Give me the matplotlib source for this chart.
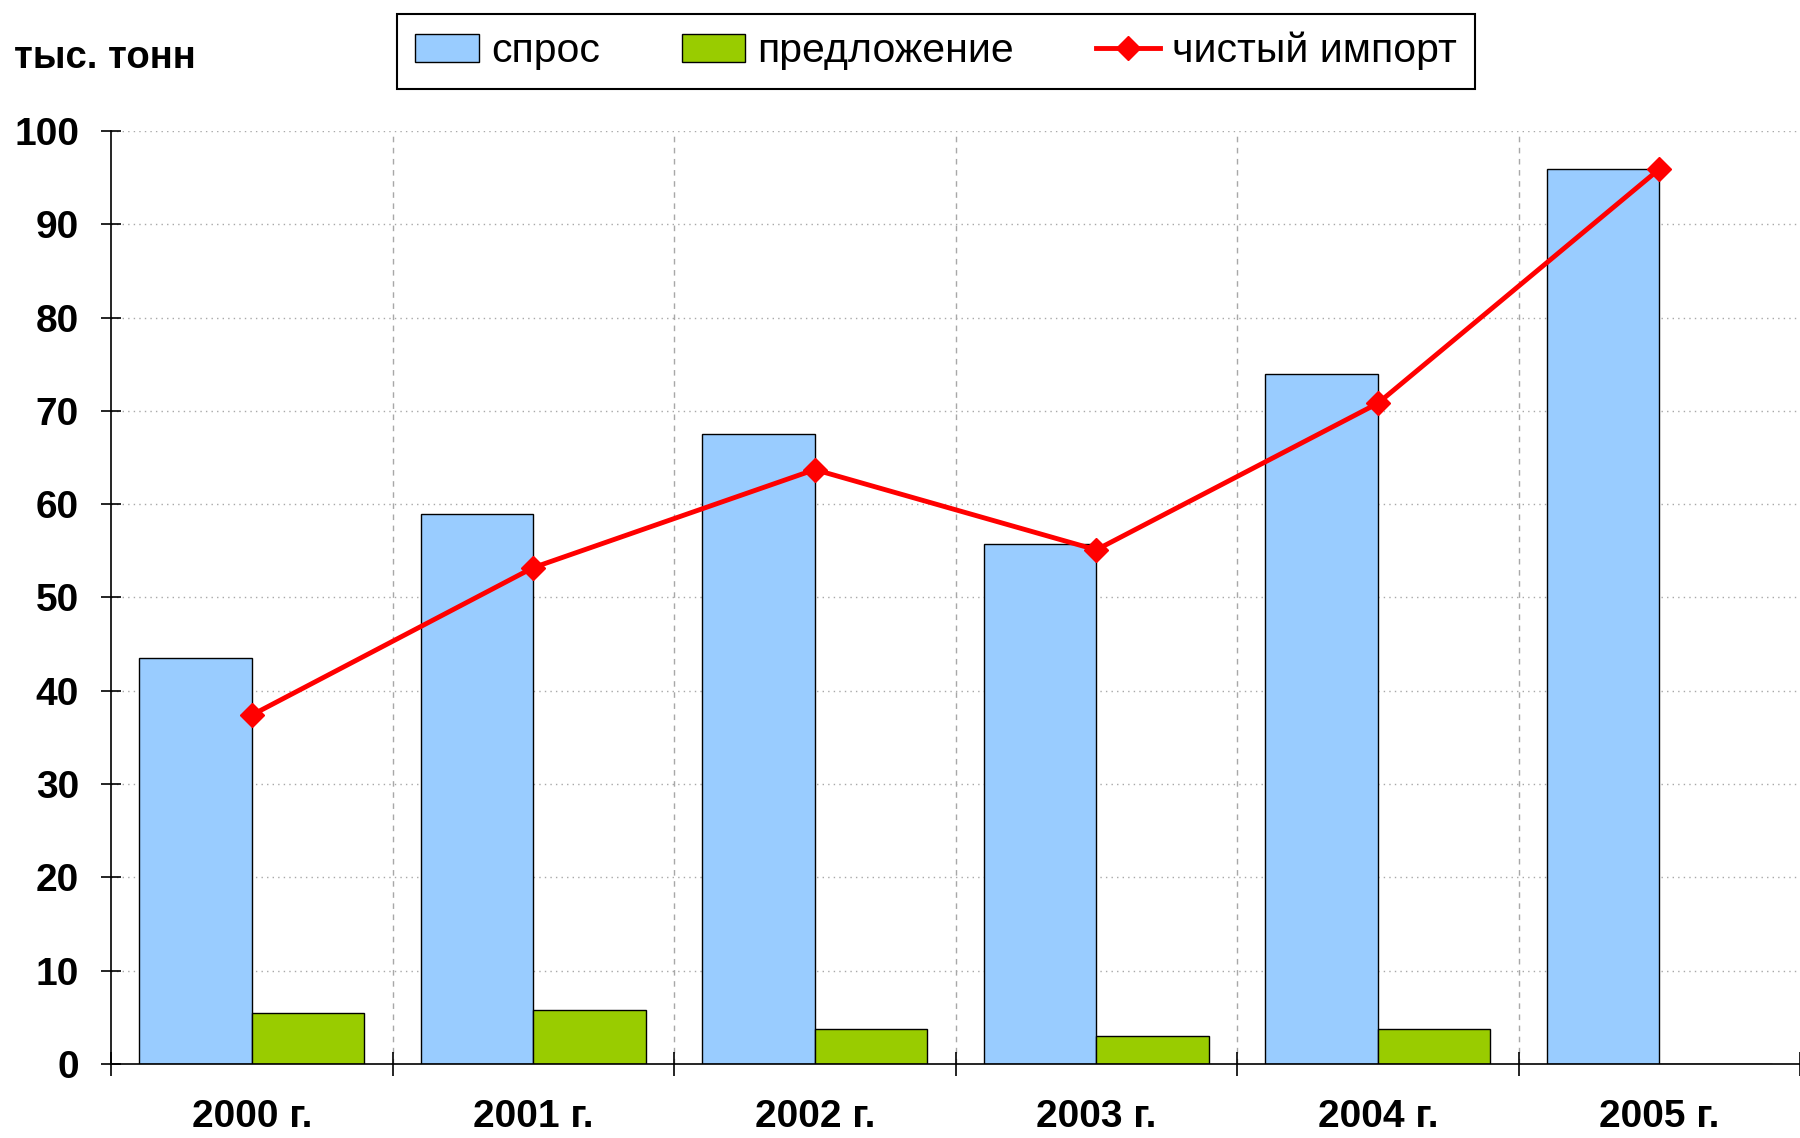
#!/usr/bin/env python3
# -*- coding: utf-8 -*-
"""Спрос, предложение и чистый импорт, 2000-2005 гг. (тыс. тонн)."""

import numpy as np
import matplotlib
matplotlib.use("Agg")
import matplotlib.pyplot as plt
from matplotlib.lines import Line2D
from matplotlib.patches import Patch

# ---- data ----
years = ["2000 г.", "2001 г.", "2002 г.", "2003 г.", "2004 г.", "2005 г."]
demand = [43.5, 58.9, 67.5, 55.7, 73.9, 95.9]
supply = [5.5, 5.8, 3.8, 3.0, 3.8, 0.0]
net_import = [37.4, 53.2, 63.7, 55.1, 70.8, 95.9]

C_DEMAND = "#99CCFF"
C_SUPPLY = "#99CC00"
C_LINE = "#FF0000"

plt.rcParams.update({
    "font.family": ["Liberation Sans", "DejaVu Sans"],
    "axes.linewidth": 1.2,
})

fig = plt.figure(figsize=(18, 11.38), dpi=100)
ax = fig.add_axes([0.0617, 0.065, 1.0 - 0.0617, 0.82])

x = np.arange(len(years))
w = 0.4
ax.bar(x - w / 2, demand, width=w, color=C_DEMAND, edgecolor="black",
       linewidth=1.0, zorder=2)
ax.bar(x + w / 2, supply, width=w, color=C_SUPPLY, edgecolor="black",
       linewidth=1.0, zorder=2)
ax.plot(x, net_import, color=C_LINE, linewidth=3.5, marker="D",
        markersize=12, markeredgecolor=C_LINE, zorder=3)

ax.set_xlim(-0.5, len(years) - 0.5)
ax.set_ylim(0, 100)
ax.set_yticks(np.arange(0, 101, 10))

# category labels at centres, tick marks at boundaries
ax.set_xticks(x)
ax.set_xticklabels(years, fontsize=28, fontweight="bold")
ax.set_xticks(np.arange(-0.5, len(years)), minor=True)
ax.tick_params(axis="x", which="major", length=0, pad=25)
ax.tick_params(axis="x", which="minor", direction="inout", length=17,
               width=1.2)
ax.tick_params(axis="y", direction="inout", length=14, width=1.2, pad=16,
               labelsize=28)
for lab in ax.get_yticklabels():
    lab.set_fontweight("bold")

# grid
for yv in np.arange(10, 101, 10):
    ax.axhline(yv, color="#A8A8A8", linestyle=(0, (1, 3)), linewidth=1.0,
               zorder=0)
for xv in np.arange(0.5, len(years) - 0.5):
    ax.axvline(xv, color="#A8A8A8", linestyle=(0, (4, 4)), linewidth=1.0,
               zorder=0)

ax.spines["top"].set_visible(False)
ax.spines["right"].set_visible(False)

fig.text(0.008, 0.94, "тыс. тонн", fontsize=27.5, fontweight="bold",
         va="baseline", ha="left")

handles = [
    Patch(facecolor=C_DEMAND, edgecolor="black", linewidth=1.0),
    Patch(facecolor=C_SUPPLY, edgecolor="black", linewidth=1.0),
    Line2D([], [], color=C_LINE, linewidth=3.5, marker="D", markersize=12),
]
leg = fig.legend(handles, ["спрос", "предложение", "чистый импорт"],
                 loc="center", bbox_to_anchor=(0.52, 0.955), ncol=3,
                 fontsize=29.5, frameon=True, fancybox=False, shadow=False,
                 edgecolor="black", framealpha=1.0, borderpad=0.45,
                 handlelength=1.55, handletextpad=0.3, columnspacing=2.0)
leg.get_frame().set_linewidth(1.5)

fig.savefig("out.png", dpi=100)
